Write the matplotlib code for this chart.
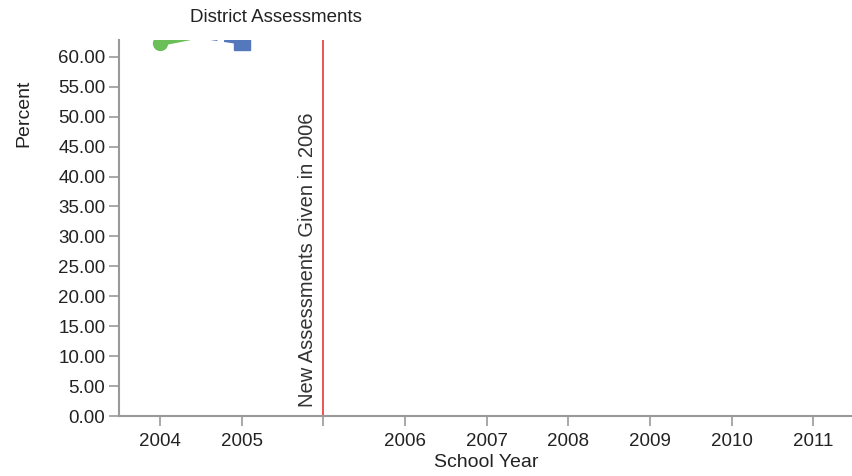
import matplotlib
matplotlib.use("Agg")
import matplotlib.pyplot as plt

plt.rcParams['font.family'] = ['Liberation Sans', 'DejaVu Sans']

# category slots; the empty slot marks the assessment change
years = ['2004', '2005', '', '2006', '2007', '2008', '2009', '2010', '2011']
green_vals = [62.3, 65.0]
blue_vals = [64.5, 62.5]
change_slot = 2
change_label = 'New Assessments Given in 2006'

text_col = '#222222'
axis_col = '#999999'

fig = plt.figure(figsize=(8.53, 4.76), dpi=100)
ax = fig.add_axes([0.1397, 0.126, 0.8615, 0.790])

x = list(range(len(years)))
ax.plot(x[:2], green_vals, color='#6abf59', lw=4.5, marker='o', ms=10,
        solid_capstyle='round', zorder=3)
ax.plot(x[:2], blue_vals, color='#5577bb', lw=4, ls=(0, (2.7, 1.2)),
        marker='s', ms=12, zorder=3)

ax.axvline(change_slot, color='#ee4444', lw=1.3, zorder=2)
ax.text(change_slot - 0.08, 1.5, change_label, rotation=90, ha='right',
        va='bottom', fontsize=14.5, color='#333333')

ax.set_xlim(-0.5, len(years) - 0.5)
ax.set_ylim(0, 62.8)
ax.set_xticks(x)
ax.set_xticklabels(years)
ax.set_yticks([i * 5 for i in range(13)])
ax.set_yticklabels(['%.2f' % (i * 5) for i in range(13)])

for s in ['top', 'right']:
    ax.spines[s].set_visible(False)
for s in ['left', 'bottom']:
    ax.spines[s].set_color(axis_col)
    ax.spines[s].set_linewidth(1.5)
ax.tick_params(colors=axis_col, labelcolor=text_col, labelsize=13.5,
               length=7, width=1.2)
ax.tick_params(axis='x', pad=5)
ax.tick_params(axis='y', pad=3)

ax.set_xlabel('School Year', fontsize=14, color=text_col, labelpad=3)
ax.set_ylabel('Percent', fontsize=14, color=text_col)
ax.yaxis.set_label_coords(-0.118, 0.806)
fig.text(190 / 853, 1 - 18 / 476, 'District Assessments', fontsize=13.5,
         color=text_col, ha='left', va='center')

fig.savefig('out.png', dpi=100)
